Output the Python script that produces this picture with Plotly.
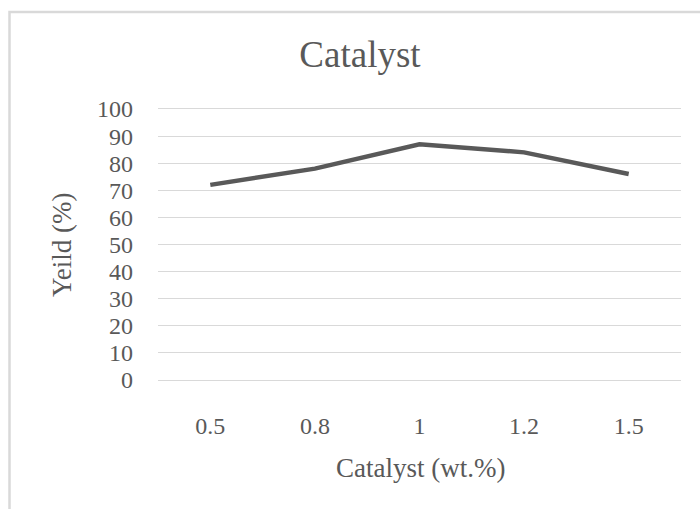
import plotly.graph_objects as go

# Catalyst loading (wt.%) and the resulting yield (%)
catalyst = ["0.5", "0.8", "1", "1.2", "1.5"]
yield_pct = [72, 78, 87, 84, 76]
y_ticks = [0, 10, 20, 30, 40, 50, 60, 70, 80, 90, 100]

TEXT = "#595959"
GRID = "#d9d9d9"
FONT = "Liberation Serif"

W, H = 700, 509
L, R, T, B = 158, 19, 109, 129
pw, ph = W - L - R, H - T - B


def px_x(x):
    return (x - L) / pw


def px_y(y):
    return (H - B - y) / ph


fig = go.Figure(
    go.Scatter(
        x=catalyst,
        y=yield_pct,
        mode="lines",
        line=dict(color=TEXT, width=4.5),
        hoverinfo="x+y",
    )
)

fig.update_layout(
    width=W,
    height=H,
    margin=dict(l=L, r=R, t=T, b=B),
    paper_bgcolor="white",
    plot_bgcolor="white",
    showlegend=False,
    font=dict(family=FONT, color=TEXT, size=24),
    title=dict(
        text="Catalyst",
        x=px_x(360),
        xref="paper",
        xanchor="center",
        y=1 - 54 / H,
        yref="container",
        yanchor="middle",
        font=dict(family=FONT, size=37, color=TEXT),
    ),
    xaxis=dict(
        type="category",
        range=[-0.5, 4.5],
        showgrid=False,
        showline=True,
        mirror=True,
        linecolor=GRID,
        linewidth=1,
        ticks="",
        ticklabelstandoff=24,
        tickfont=dict(family=FONT, size=24, color=TEXT),
        fixedrange=True,
    ),
    yaxis=dict(
        range=[0, 100],
        tickvals=y_ticks,
        showgrid=True,
        gridcolor=GRID,
        gridwidth=1,
        zeroline=False,
        showline=False,
        ticks="",
        ticklabelstandoff=24,
        tickfont=dict(family=FONT, size=24, color=TEXT),
        fixedrange=True,
    ),
    annotations=[
        dict(
            text="Catalyst (wt.%)",
            xref="paper",
            yref="paper",
            x=px_x(420),
            y=px_y(468),
            xanchor="center",
            yanchor="middle",
            showarrow=False,
            font=dict(family=FONT, size=27, color=TEXT),
        ),
        dict(
            text="Yeild (%)",
            xref="paper",
            yref="paper",
            x=px_x(62),
            y=px_y(245),
            xanchor="center",
            yanchor="middle",
            textangle=-90,
            showarrow=False,
            font=dict(family=FONT, size=27, color=TEXT),
        ),
    ],
    shapes=[
        dict(
            type="rect",
            xref="paper",
            yref="paper",
            x0=px_x(9.5),
            x1=px_x(730),
            y0=px_y(540),
            y1=px_y(12),
            line=dict(color=GRID, width=2.5),
            fillcolor="rgba(0,0,0,0)",
            layer="below",
        )
    ],
)

fig.write_html("out.html")
